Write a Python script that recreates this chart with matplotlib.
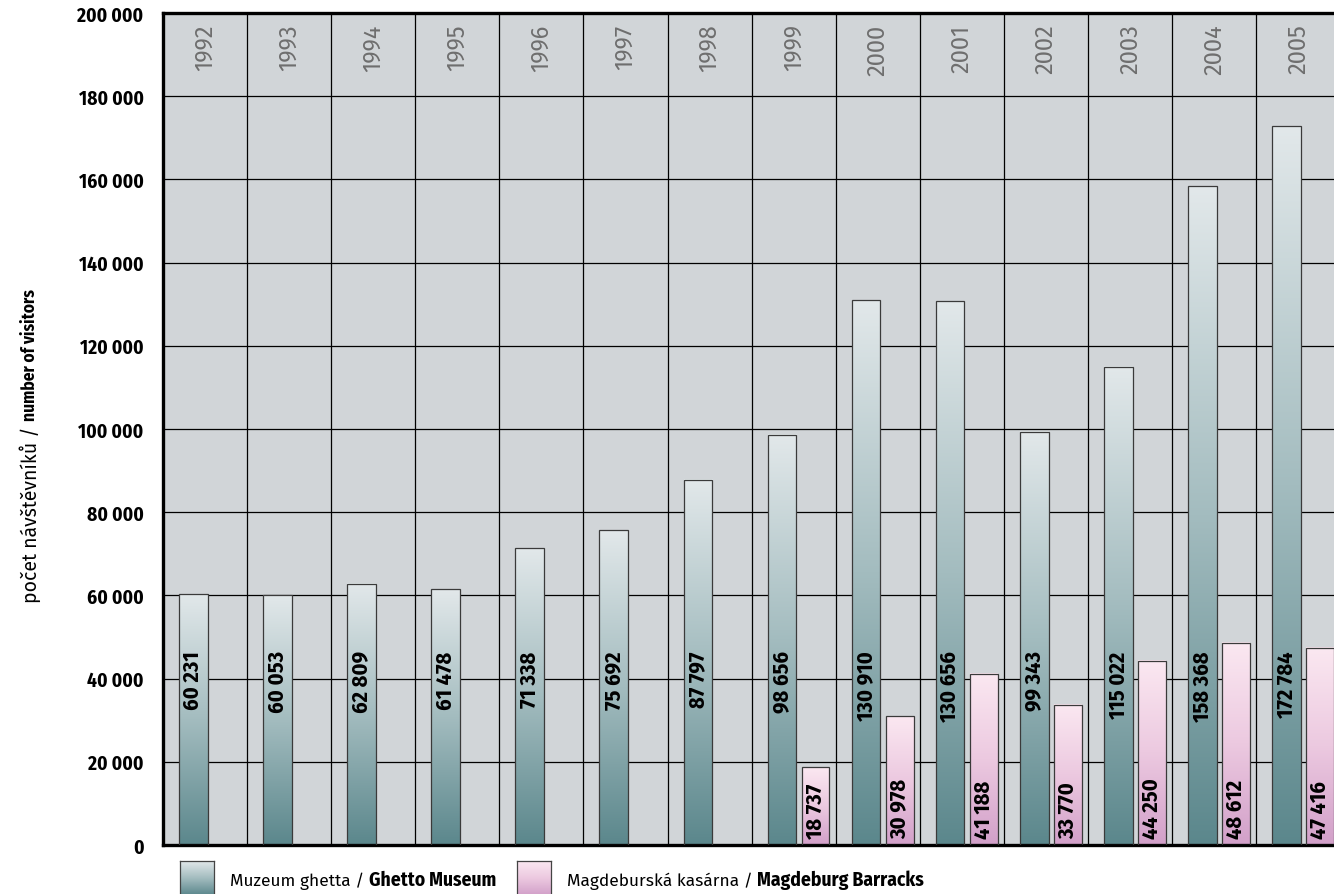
import numpy as np
import matplotlib
matplotlib.use('Agg')
import matplotlib.pyplot as plt
from matplotlib.colors import LinearSegmentedColormap
from matplotlib.patches import Rectangle

years = ['1992', '1993', '1994', '1995', '1996', '1997', '1998',
         '1999', '2000', '2001', '2002', '2003', '2004', '2005']
ghetto = [60231, 60053, 62809, 61478, 71338, 75692, 87797,
          98656, 130910, 130656, 99343, 115022, 158368, 172784]
barracks = [None, None, None, None, None, None, None,
            18737, 30978, 41188, 33770, 44250, 48612, 47416]
yticks = [0, 20000, 40000, 60000, 80000, 100000, 120000,
          140000, 160000, 180000, 200000]

# condensed bold for numbers, plain sans for the rest
narrow = ['Fira Sans Condensed', 'DejaVu Sans']
regular = ['Fira Sans', 'Noto Sans', 'DejaVu Sans']

cm_ghetto = LinearSegmentedColormap.from_list('g', ['#5b878c', '#a3bcbf', '#e2e8ea'])
cm_pink = LinearSegmentedColormap.from_list('p', ['#d2a0c9', '#ecc9e0', '#fbe8f1'])
grad = np.linspace(0, 1, 256).reshape(-1, 1)


def fmt(v):
    return '{:,}'.format(v).replace(',', ' ')


def grad_bar(ax, x0, w, h, cmap):
    ax.imshow(grad, cmap=cmap, extent=[x0, x0 + w, 0, h], origin='lower',
              aspect='auto', zorder=2, interpolation='bilinear')
    ax.add_patch(Rectangle((x0, 0), w, h, fill=False, ec='#3a3a3a', lw=0.9, zorder=3))


fig = plt.figure(figsize=(13.34, 8.95), dpi=100)
W, H = 1334, 895
ax = fig.add_axes([163 / W, 49 / H, 84.1 * 14 / W, 832 / H])
ax.set_facecolor('#d1d5d8')

gw = 0.34
pw = 0.33
for i, v in enumerate(ghetto):
    x0 = i - 0.5 + 16 / 84.1
    grad_bar(ax, x0, gw, v, cm_ghetto)
    ax.text(x0 + gw / 2, 46800, fmt(v), rotation=90, ha='center', va='top',
            fontsize=16, fontweight='bold', family=narrow, zorder=4)
    ax.text(i, 197500, years[i], rotation=90, ha='center', va='top',
            fontsize=17, color='#6e6e6e', family=regular, zorder=4)
    b = barracks[i]
    if b is not None:
        x1 = i - 0.5 + 50 / 84.1
        grad_bar(ax, x1, pw, b, cm_pink)
        ax.text(x1 + pw / 2, 1700, fmt(b), rotation=90, ha='center', va='bottom',
                fontsize=16, fontweight='bold', family=narrow, zorder=4)

for y in yticks[1:-1]:
    ax.axhline(y, color='black', lw=0.9, zorder=1)
for i in range(len(years) - 1):
    ax.axvline(i + 0.5, color='black', lw=0.9, zorder=1)

ax.set_xlim(-0.5, len(years) - 0.5)
ax.set_ylim(0, 200000)
ax.set_xticks([])
ax.set_yticks(yticks)
ax.set_yticklabels([fmt(t) for t in yticks], fontsize=14, fontweight='bold',
                   family=narrow)
ax.tick_params(axis='y', length=0, pad=14)
for s in ['left', 'top', 'bottom']:
    ax.spines[s].set_linewidth(2.4)
ax.spines['right'].set_visible(False)

# legend boxes
for (lx, cmap) in [(180, cm_ghetto), (517, cm_pink)]:
    lax = fig.add_axes([lx / W, -1 / H, 34 / W, 34 / H])
    lax.imshow(grad, cmap=cmap, origin='lower', aspect='auto', extent=[0, 1, 0, 1])
    lax.set_xticks([])
    lax.set_yticks([])
    for s in lax.spines.values():
        s.set_color('#444444')
        s.set_linewidth(0.9)

renderer = fig.canvas.get_renderer()


def two_part(x, y, a, b, size, bsize, rot=0):
    t1 = fig.text(x, y, a, fontsize=size, family=regular, rotation=rot,
                  ha='left' if rot == 0 else 'center',
                  va='baseline' if rot == 0 else 'bottom')
    bb = t1.get_window_extent(renderer)
    if rot == 0:
        fig.text(bb.x1 / W, y, b, fontsize=bsize, family=narrow, fontweight='bold',
                 ha='left', va='baseline')
    else:
        fig.text(x, bb.y1 / H, b, fontsize=bsize, family=narrow, fontweight='bold',
                 rotation=rot, ha='center', va='bottom')


two_part(230 / W, (H - 886) / H, 'Muzeum ghetta / ', 'Ghetto Museum', 12.5, 14)
two_part(567 / W, (H - 886) / H, 'Magdeburská kasárna / ', 'Magdeburg Barracks', 12.5, 14)
two_part(30 / W, (H - 603) / H, 'počet návštěvníků / ', 'number of visitors', 14, 12.5, rot=90)

fig.savefig('out.png', dpi=100)
